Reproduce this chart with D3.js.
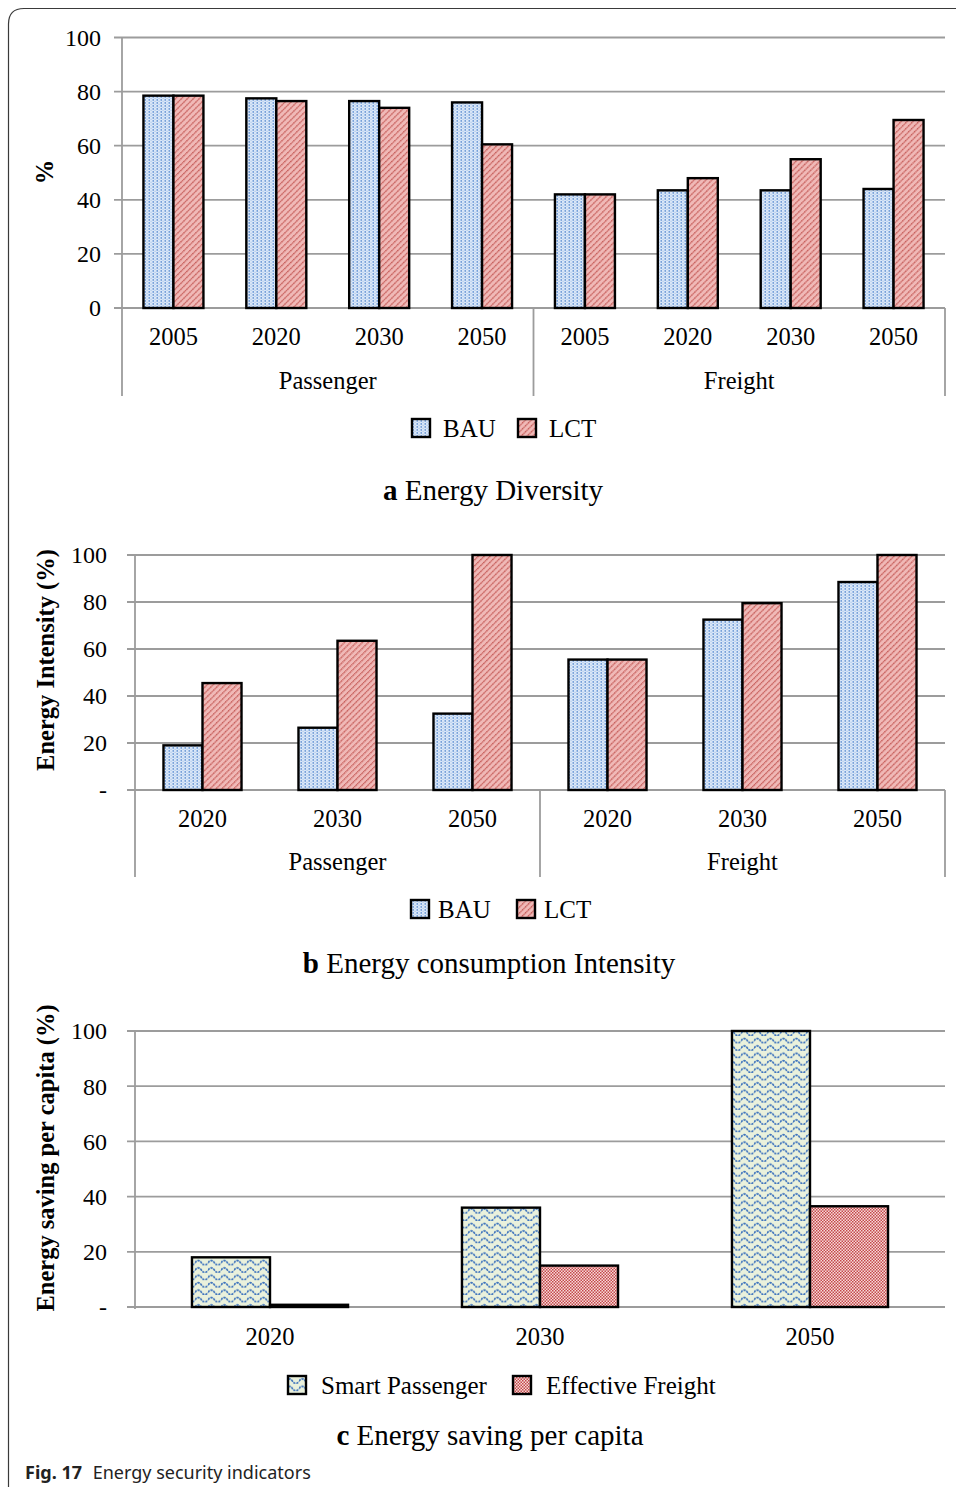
<!DOCTYPE html>
<html>
<head>
<meta charset="utf-8">
<script src="https://cdn.jsdelivr.net/npm/d3@7"></script>
<style>
  html, body { margin: 0; padding: 0; background: #fff; }
  svg { display: block; }
</style>
</head>
<body>
<svg id="chart" width="956" height="1487"></svg>
<script>
// ---------- DATA ----------
const yearsA = ["2005", "2020", "2030", "2050"];
const groupsA = ["Passenger", "Freight"];
const bauA = [78.5, 77.5, 76.5, 76, 42, 43.5, 43.5, 44];
const lctA = [78.5, 76.5, 74, 60.5, 42, 48, 55, 69.5];

const yearsB = ["2020", "2030", "2050"];
const groupsB = ["Passenger", "Freight"];
const bauB = [19, 26.5, 32.5, 55.5, 72.5, 88.5];
const lctB = [45.5, 63.5, 100, 55.5, 79.5, 100];

const yearsC = ["2020", "2030", "2050"];
const smartPassenger = [18, 36, 100];
const effectiveFreight = [0.8, 15, 36.5];

const ticksAB = [0, 20, 40, 60, 80, 100];
const tickLabelsA = ["0", "20", "40", "60", "80", "100"];
const tickLabelsBC = ["-", "20", "40", "60", "80", "100"];

const seriesAB = ["BAU", "LCT"];
const seriesC = ["Smart Passenger", "Effective Freight"];

// ---------- SETUP ----------
const svg = d3.select("#chart");
const SERIF = "'Liberation Serif', 'Times New Roman', serif";
const GRID = "#9c9c9c";
const TXT = "#000";

const defs = svg.append("defs");
// BAU: light blue with blue dots
const pBau = defs.append("pattern").attr("id", "pBAU").attr("patternUnits", "userSpaceOnUse")
  .attr("width", 4).attr("height", 3);
pBau.append("rect").attr("width", 4).attr("height", 3).attr("fill", "#dae7f8");
pBau.append("rect").attr("x", 0.5).attr("y", 0.3).attr("width", 1.5).attr("height", 1.3).attr("fill", "#4f84cc");
pBau.append("rect").attr("x", 2.5).attr("y", 1.8).attr("width", 1.2).attr("height", 0.9).attr("fill", "#9dbce6");
// LCT: pink with red diagonal lines
const pLct = defs.append("pattern").attr("id", "pLCT").attr("patternUnits", "userSpaceOnUse")
  .attr("width", 4.2).attr("height", 4.2).attr("patternTransform", "rotate(45)");
pLct.append("rect").attr("width", 4.2).attr("height", 4.2).attr("fill", "#f0b9b7");
pLct.append("line").attr("x1", 0.7).attr("y1", 0).attr("x2", 0.7).attr("y2", 4.2)
  .attr("stroke", "#c0504d").attr("stroke-width", 1.1).attr("stroke-dasharray", "1.6,0.6");
// Smart passenger: pale green with blue waves
const pSp = defs.append("pattern").attr("id", "pSP").attr("patternUnits", "userSpaceOnUse")
  .attr("width", 13).attr("height", 7.4);
pSp.append("rect").attr("width", 13).attr("height", 7.4).attr("fill", "#eaf1dc");
pSp.append("path").attr("d", "M0,4.8 Q3.25,0.2 6.5,4.8 T13,4.8")
  .attr("fill", "none").attr("stroke", "#3f74bd").attr("stroke-width", 1.7)
  .attr("stroke-dasharray", "2.4,0.8");
// Effective freight: red checkerboard
const pEf = defs.append("pattern").attr("id", "pEF").attr("patternUnits", "userSpaceOnUse")
  .attr("width", 3).attr("height", 3);
pEf.append("rect").attr("width", 3).attr("height", 3).attr("fill", "#f7dad9");
pEf.append("rect").attr("x", 0).attr("y", 0).attr("width", 1.5).attr("height", 1.5).attr("fill", "#c4484a");
pEf.append("rect").attr("x", 1.5).attr("y", 1.5).attr("width", 1.5).attr("height", 1.5).attr("fill", "#c4484a");

const fills = { "BAU": "url(#pBAU)", "LCT": "url(#pLCT)",
  "Smart Passenger": "url(#pSP)", "Effective Freight": "url(#pEF)" };

// outer frame
svg.append("path").attr("d", "M8.5,1487 L8.5,24 Q8.5,8.5 24,8.5 L956,8.5")
  .attr("fill", "none").attr("stroke", "#3a3a3a").attr("stroke-width", 1.2);

function panel(cfg) {
  const g = svg.append("g");
  const y = d3.scaleLinear().domain([0, 100]).range([cfg.yBottom, cfg.yTop]);
  const x = d3.scaleBand().domain(cfg.values[0].map((d, i) => i)).range([cfg.x0, cfg.x1]).padding(0);
  const xs = d3.scaleBand().domain(cfg.series).range([0, x.step()]).paddingInner(0).paddingOuter(cfg.subPad);

  // gridlines (incl. tick stubs)
  g.selectAll("line.grid").data(ticksAB).enter().append("line")
    .attr("x1", cfg.x0 - 8).attr("x2", cfg.x1)
    .attr("y1", d => y(d)).attr("y2", d => y(d))
    .attr("stroke", GRID).attr("stroke-width", 1.8);
  // tick labels
  g.selectAll("text.tick").data(ticksAB).enter().append("text")
    .attr("x", cfg.tickX).attr("y", d => y(d)).attr("dy", "0.35em")
    .attr("text-anchor", "end").attr("font-family", SERIF).attr("font-size", 24).attr("fill", TXT)
    .text((d, i) => cfg.tickLabels[i]);

  // vertical axis lines
  const vlines = [cfg.x0].concat(cfg.multi ? [x(cfg.values[0].length / 2), cfg.x1] : []);
  g.selectAll("line.v").data(vlines).enter().append("line")
    .attr("x1", d => d).attr("x2", d => d)
    .attr("y1", (d, i) => i === 0 ? cfg.yTop : cfg.yBottom)
    .attr("y2", cfg.multi ? cfg.axisBottom : cfg.yBottom + 2)
    .attr("stroke", GRID).attr("stroke-width", 1.8);

  // bars
  cfg.series.forEach((s, si) => {
    g.selectAll("rect.b" + si).data(cfg.values[si]).enter().append("rect")
      .attr("x", (d, i) => x(i) + xs(s))
      .attr("y", d => y(d))
      .attr("width", xs.bandwidth())
      .attr("height", d => cfg.yBottom - y(d))
      .attr("fill", fills[s]).attr("stroke", "#000").attr("stroke-width", 2.4)
      .attr("stroke-linejoin", "miter");
  });

  // category labels
  g.selectAll("text.cat").data(cfg.values[0]).enter().append("text")
    .attr("x", (d, i) => x(i) + x.bandwidth() / 2).attr("y", cfg.yearY).attr("dy", "0.35em")
    .attr("text-anchor", "middle").attr("font-family", SERIF).attr("font-size", 24.5).attr("fill", TXT)
    .text((d, i) => cfg.years[i % cfg.years.length]);
  if (cfg.multi) {
    const n = cfg.values[0].length / 2;
    g.selectAll("text.grp").data(cfg.groups).enter().append("text")
      .attr("x", (d, i) => (x(i * n) + x(i * n + n - 1) + x.bandwidth()) / 2)
      .attr("y", cfg.groupY).attr("dy", "0.35em")
      .attr("text-anchor", "middle").attr("font-family", SERIF).attr("font-size", 24.5).attr("fill", TXT)
      .text(d => d);
  }

  // y label
  g.append("text").attr("transform", `translate(${cfg.ylabX},${cfg.ylabY}) rotate(-90)`)
    .attr("dy", "0.35em").attr("text-anchor", "middle").attr("font-family", SERIF)
    .attr("font-weight", "bold").attr("font-size", 24.5).attr("fill", TXT).text(cfg.ylabel);

  // legend
  const lg = g.append("g");
  cfg.series.forEach((s, si) => {
    const lx = cfg.legend[si];
    lg.append("rect").attr("x", lx).attr("y", cfg.legendY - 9).attr("width", 18).attr("height", 18)
      .attr("fill", fills[s]).attr("stroke", "#000").attr("stroke-width", 2.4);
    lg.append("text").attr("x", lx + cfg.legendGap).attr("y", cfg.legendY).attr("dy", "0.35em")
      .attr("font-family", SERIF).attr("font-size", 25).attr("fill", TXT).text(s);
  });

  // title
  const t = g.append("text").attr("x", cfg.titleX).attr("y", cfg.titleY).attr("dy", "0.35em")
    .attr("text-anchor", "middle").attr("font-family", SERIF).attr("font-size", 29).attr("fill", TXT);
  t.append("tspan").attr("font-weight", "bold").text(cfg.titleLetter);
  t.append("tspan").text(" " + cfg.title);
}

panel({
  values: [bauA, lctA], series: seriesAB, years: yearsA, groups: groupsA, multi: true,
  x0: 122, x1: 945, yTop: 37.5, yBottom: 308, axisBottom: 396, subPad: 0.715,
  tickX: 101, tickLabels: tickLabelsA, yearY: 336, groupY: 380,
  ylabX: 44, ylabY: 172, ylabel: "%",
  legend: [412, 518], legendGap: 31, legendY: 428,
  titleX: 493, titleY: 490, titleLetter: "a", title: "Energy Diversity"
});

panel({
  values: [bauB, lctB], series: seriesAB, years: yearsB, groups: groupsB, multi: true,
  x0: 135, x1: 945, yTop: 555, yBottom: 790, axisBottom: 877, subPad: 0.73,
  tickX: 107, tickLabels: tickLabelsBC, yearY: 818, groupY: 861,
  ylabX: 45, ylabY: 660, ylabel: "Energy Intensity (%)",
  legend: [411, 517], legendGap: 27, legendY: 909,
  titleX: 489, titleY: 963, titleLetter: "b", title: "Energy consumption Intensity"
});

panel({
  values: [smartPassenger, effectiveFreight], series: seriesC, years: yearsC, groups: [], multi: false,
  x0: 135, x1: 945, yTop: 1031, yBottom: 1307, axisBottom: 1309, subPad: 0.73,
  tickX: 107, tickLabels: tickLabelsBC, yearY: 1336, groupY: 0,
  ylabX: 45, ylabY: 1158, ylabel: "Energy saving per capita (%)",
  legend: [288, 513], legendGap: 33, legendY: 1385,
  titleX: 490, titleY: 1435, titleLetter: "c", title: "Energy saving per capita"
});

// caption
const cap = svg.append("text").attr("x", 25).attr("y", 1473).attr("dy", "0.35em")
  .attr("font-family", "'Noto Sans', 'Open Sans', sans-serif").attr("font-size", 18).attr("fill", "#222");
cap.append("tspan").attr("font-weight", "bold").text("Fig. 17");
cap.append("tspan").attr("dx", 6).text(" Energy security indicators");
</script>
</body>
</html>
